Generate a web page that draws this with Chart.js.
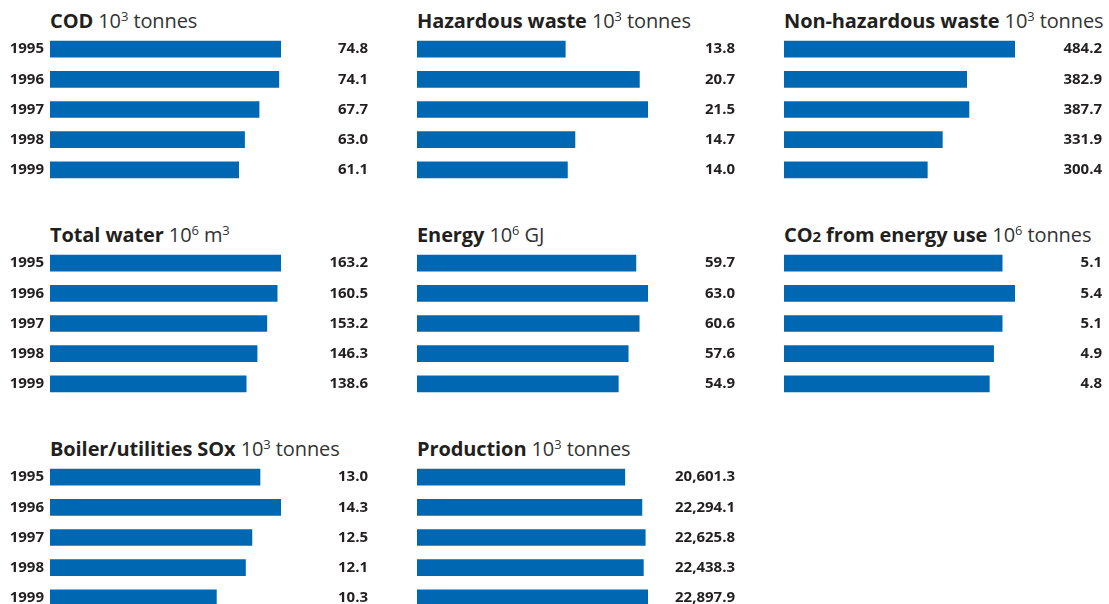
<!DOCTYPE html>
<html>
<head>
<meta charset="utf-8">
<script src="https://cdn.jsdelivr.net/npm/chart.js@4/dist/chart.umd.min.js"></script>
<style>
  body { margin: 0; background: #fff; }
  #wrap { position: relative; width: 1109px; height: 604px; overflow: hidden; font-family: "Open Sans", sans-serif; color: #231f20; }
  .title { position: absolute; font-size: 20px; line-height: 20px; white-space: nowrap; letter-spacing: -0.1px; }
  .title b { font-weight: 700; }
  .title .unit { font-weight: 400; color: #333; }
  .title sup { font-size: 13px; vertical-align: 0; position: relative; top: -7px; }
  .title .sub { font-size: 15px; }
  canvas { position: absolute; }
</style>
</head>
<body>
<div id="wrap"></div>
<script>
const years = ['1995', '1996', '1997', '1998', '1999'];
const cod = [74.8, 74.1, 67.7, 63.0, 61.1];
const hazardousWaste = [13.8, 20.7, 21.5, 14.7, 14.0];
const nonHazardousWaste = [484.2, 382.9, 387.7, 331.9, 300.4];
const totalWater = [163.2, 160.5, 153.2, 146.3, 138.6];
const energy = [59.7, 63.0, 60.6, 57.6, 54.9];
const co2 = [5.1, 5.4, 5.1, 4.9, 4.8];
const boilerSox = [13.0, 14.3, 12.5, 12.1, 10.3];
const production = [20601.3, 22294.1, 22625.8, 22438.3, 22897.9];

const panels = [
    { name: 'COD', unit: '10<sup>3</sup> tonnes', data: cod },
    { name: 'Hazardous waste', unit: '10<sup>3</sup> tonnes', data: hazardousWaste },
    { name: 'Non-hazardous waste', unit: '10<sup>3</sup> tonnes', data: nonHazardousWaste },
    { name: 'Total water', unit: '10<sup>6</sup> m<sup>3</sup>', data: totalWater },
    { name: 'Energy', unit: '10<sup>6</sup> GJ', data: energy },
    { name: 'CO<span class="sub">2</span> from energy use', unit: '10<sup>6</sup> tonnes', data: co2 },
    { name: 'Boiler/utilities SOx', unit: '10<sup>3</sup> tonnes', data: boilerSox },
    { name: 'Production', unit: '10<sup>3</sup> tonnes', data: production },
];

const blue = '#0068b3';
const ink = '#231f20';
const colLeft = [0, 367, 734];
const rowTop = [34, 248, 462];

const valueLabels = {
    id: 'valueLabels',
    afterDatasetsDraw(chart) {
        const ctx = chart.ctx;
        const area = chart.chartArea;
        const ds = chart.data.datasets[0];
        ctx.save();
        ctx.font = 'bold 15px "Open Sans"';
        ctx.fillStyle = ink;
        ctx.textAlign = 'right';
        ctx.textBaseline = 'middle';
        chart.getDatasetMeta(0).data.forEach((bar, i) => {
            const txt = ds.data[i].toLocaleString('en-US', { minimumFractionDigits: 1, maximumFractionDigits: 1 });
            ctx.fillText(txt, area.right + 87, bar.y);
        });
        ctx.restore();
    }
};

const wrap = document.getElementById('wrap');

panels.forEach((p, i) => {
    const col = i % 3, row = Math.floor(i / 3);

    const t = document.createElement('div');
    t.className = 'title';
    t.style.left = (colLeft[col] + 50) + 'px';
    t.style.top = (rowTop[row] - 23) + 'px';
    t.innerHTML = `<b>${p.name}</b> <span class="unit">${p.unit}</span>`;
    wrap.appendChild(t);

    const cv = document.createElement('canvas');
    cv.width = 370;
    cv.height = 151;
    cv.style.left = colLeft[col] + 'px';
    cv.style.top = rowTop[row] + 'px';
    wrap.appendChild(cv);

    new Chart(cv, {
        type: 'bar',
        data: {
            labels: years,
            datasets: [{ data: p.data, backgroundColor: blue, barThickness: 16 }],
        },
        options: {
            indexAxis: 'y',
            responsive: false,
            animation: false,
            layout: { padding: { left: 0, right: 89, top: 0, bottom: 0 } },
            plugins: { legend: { display: false }, tooltip: { enabled: false } },
            scales: {
                x: { display: false, min: 0, max: Math.max(...p.data) },
                y: {
                    grid: { display: false, drawTicks: false },
                    border: { display: false },
                    ticks: { display: col === 0, padding: 6, color: ink, font: { family: 'Open Sans', size: 15, weight: 'bold' } },
                    afterFit: (s) => { s.width = 50; s.paddingTop = 0; s.paddingBottom = 0; },
                },
            },
        },
        plugins: [valueLabels],
    });
});
</script>
</body>
</html>
